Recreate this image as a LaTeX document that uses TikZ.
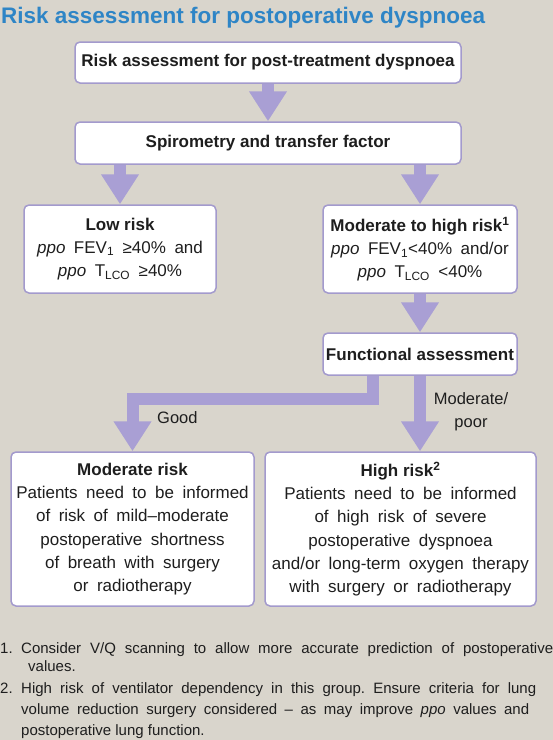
\documentclass[tikz,border=0pt]{standalone}
\usepackage{fontspec}
\setmainfont{Liberation Sans}
\newfontfamily\widefont{Liberation Sans}[WordSpace=1.8]
\usetikzlibrary{arrows.meta,calc}
\definecolor{bg}{HTML}{D9D5CC}
\definecolor{ttl}{HTML}{2E85C6}
\definecolor{arrc}{HTML}{A99FD4}
\definecolor{bord}{HTML}{A39ACD}
\definecolor{txt}{HTML}{1E1E1E}
\newcommand\hd[1]{{\rmfamily\bfseries #1}}
\frenchspacing
\tikzset{
  box/.style={draw=bord, line width=1.5pt, fill=white, rounded corners=5pt, inner sep=0pt,
    align=center, text=txt, font=\widefont\fontsize{17}{23.2}\selectfont},
  hbox/.style={box, font=\rmfamily\bfseries\fontsize{17}{20}\selectfont},
  flow/.style={draw=arrc, line width=12pt, line join=miter, -{Triangle[width=36pt,length=30pt]}},
  ttlstyle/.style={inner sep=0pt, text=ttl, font=\rmfamily\bfseries\fontsize{22.5}{26}\selectfont},
  lbl/.style={inner sep=0pt, text=txt, align=center, font=\rmfamily\fontsize{16.5}{23}\selectfont},
  fn/.style={inner sep=0pt, text=txt, anchor=base west, font=\rmfamily\fontsize{15}{18}\selectfont}
}
\begin{document}
\begin{tikzpicture}[x=1pt,y=-1pt]
\fill[bg] (0,0) rectangle (553,740);
\useasboundingbox (0,0) rectangle (553,740);

\node[ttlstyle, anchor=base west] (title) at (1,23) {Risk assessment for postoperative dyspnoea};

\node[hbox, minimum width=386pt, minimum height=41pt] (b1) at (268,62.5) {Risk assessment for post-treatment dyspnoea};
\node[hbox, minimum width=386pt, minimum height=42pt] (b2) at (268,143) {Spirometry and transfer factor};

\node[box, minimum width=192pt, minimum height=88pt] (low) at (120,249)
  {\hd{Low risk}\\ \textit{ppo} FEV\textsubscript{1} ≥40\% and\\ \textit{ppo} T\textsubscript{LCO} ≥40\%};
\node[box, minimum width=194pt, minimum height=88pt] (mh) at (420,249)
  {\hd{Moderate to high risk\textsuperscript{1}}\\ \textit{ppo} FEV\textsubscript{1}<40\% and/or\\ \textit{ppo} T\textsubscript{LCO} <40\%};

\node[hbox, minimum width=194pt, minimum height=42pt] (func) at (420,354) {Functional assessment};

\node[box, minimum width=243pt, minimum height=154pt] (mod) at (132.5,529)
  {\hd{Moderate risk}\\ Patients need to be informed\\ of risk of mild–moderate\\ postoperative shortness\\ of breath with surgery\\ or radiotherapy};
\node[box, minimum width=271pt, minimum height=154pt] (high) at (400.5,529)
  {\hd{High risk\textsuperscript{2}}\\ Patients need to be informed\\ of high risk of severe\\ postoperative dyspnoea\\ and/or long-term oxygen therapy\\ with surgery or radiotherapy};

% connectors
\draw[flow] (b1.south) -- (b2.north);
\draw[flow] (b2.south -| low.north) -- (low.north);
\draw[flow] (b2.south -| mh.north) -- (mh.north);
\draw[flow] (mh.south) -- (func.north);
\draw[flow] ([xshift=-47.5pt]func.south) -- ++(0,23) -| (mod.north);
\draw[flow] (func.south) -- (func.south |- high.north);

\node[lbl, anchor=base west] (good) at (157,423) {Good};
\node[lbl] (modpoor) at (471,411.5) {Moderate/\\poor};

% footnotes
\node[fn] (n1) at (0,653) {1.};
\node[fn] (f1) at (21,653) {\makebox[532pt][s]{Consider V/Q scanning to allow more accurate prediction of postoperative}};
\node[fn] (f1b) at (28,671) {values.};
\node[fn] (n2) at (0,693) {2.};
\node[fn] (f2) at (21,693) {\makebox[515pt][s]{High risk of ventilator dependency in this group. Ensure criteria for lung}};
\node[fn] (f2b) at (21,714) {\makebox[508pt][s]{volume reduction surgery considered – as may improve \textit{ppo} values and}};
\node[fn] (f2c) at (21,735) {postoperative lung function.};
\end{tikzpicture}
\end{document}
